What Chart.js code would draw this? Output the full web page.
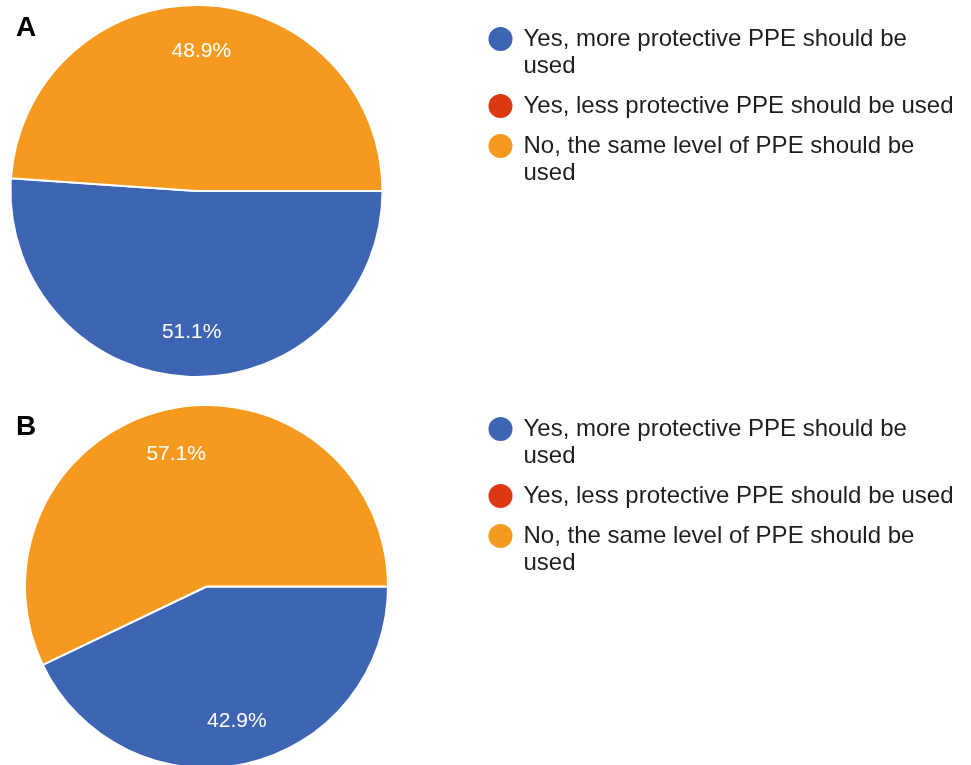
<!DOCTYPE html>
<html>
<head>
<meta charset="utf-8">
<script src="https://cdn.jsdelivr.net/npm/chart.js@4.4.1/dist/chart.umd.min.js"></script>
<style>
  html, body { margin: 0; padding: 0; background: #fff; }
  body { width: 971px; height: 765px; overflow: hidden; position: relative; }
  canvas { position: absolute; left: 0; }
  #chartA { top: 0; }
  #chartB { top: 395px; }
</style>
</head>
<body>
<canvas id="chartA" width="971" height="390"></canvas>
<canvas id="chartB" width="971" height="380"></canvas>
<script>
// answer options, one array per wrapped legend line
const answers = [
  ['Yes, more protective PPE should be', 'used'],
  ['Yes, less protective PPE should be used'],
  ['No, the same level of PPE should be', 'used']
];
const answerColors = ['#3e64b4', '#dc3912', '#f59a1f'];

// percentage of respondents per answer
const valuesA = [51.1, 0, 48.9];
const valuesB = [42.9, 0, 57.1];

const FONT = 'Arial, "Liberation Sans", sans-serif';

// percent text inside each slice
const sliceLabels = {
  id: 'sliceLabels',
  afterDatasetsDraw(chart) {
    const ctx = chart.ctx;
    const meta = chart.getDatasetMeta(0);
    const data = chart.data.datasets[0].data;
    const total = data.reduce((a, b) => a + b, 0);
    ctx.save();
    ctx.fillStyle = '#fff';
    ctx.font = '21px ' + FONT;
    ctx.textAlign = 'center';
    ctx.textBaseline = 'middle';
    meta.data.forEach((arc, i) => {
      if (!data[i]) return;
      const p = arc.getProps(['x', 'y', 'startAngle', 'endAngle', 'outerRadius'], true);
      const mid = (p.startAngle + p.endAngle) / 2;
      const r = p.outerRadius * 0.755;
      const txt = (data[i] / total * 100).toFixed(1) + '%';
      ctx.fillText(txt, p.x + Math.cos(mid) * r, p.y + Math.sin(mid) * r + 1);
    });
    ctx.restore();
  }
};

// panel letter and legend with round markers on the right
const sideLegend = {
  id: 'sideLegend',
  afterDraw(chart, args, opts) {
    const ctx = chart.ctx;
    const ds = chart.data.datasets[0];
    ctx.save();
    ctx.fillStyle = '#000';
    ctx.font = 'bold 28px ' + FONT;
    ctx.textBaseline = 'alphabetic';
    ctx.fillText(opts.letter, 16, opts.letterY);

    ctx.font = '24px ' + FONT;
    ctx.textBaseline = 'middle';
    let y = opts.y;
    chart.data.labels.forEach((lines, i) => {
      ctx.beginPath();
      ctx.arc(opts.x, y, 12, 0, Math.PI * 2);
      ctx.fillStyle = ds.backgroundColor[i];
      ctx.fill();
      ctx.fillStyle = '#1e1e1e';
      lines.forEach((line, j) => {
        ctx.fillText(line, opts.x + 23, y + j * 27);
      });
      y += lines.length * 27 + 13;
    });
    ctx.restore();
  }
};

function makePie(id, values, padding, legend) {
  return new Chart(document.getElementById(id), {
    type: 'pie',
    data: {
      labels: answers,
      datasets: [{
        data: values,
        backgroundColor: answerColors,
        borderColor: '#fff',
        borderWidth: 2
      }]
    },
    options: {
      responsive: false,
      animation: false,
      events: [],
      rotation: 90,
      layout: { padding: padding },
      plugins: {
        legend: { display: false },
        tooltip: { enabled: false },
        sideLegend: legend
      }
    },
    plugins: [sliceLabels, sideLegend]
  });
}

makePie('chartA', valuesA,
  { left: 9.5, top: 4, right: 587.5, bottom: 12 },
  { letter: 'A', letterY: 36, x: 500.5, y: 39 });

makePie('chartB', valuesB,
  { left: 24, top: 9, right: 582, bottom: 6 },
  { letter: 'B', letterY: 40, x: 500.5, y: 34 });
</script>
</body>
</html>
